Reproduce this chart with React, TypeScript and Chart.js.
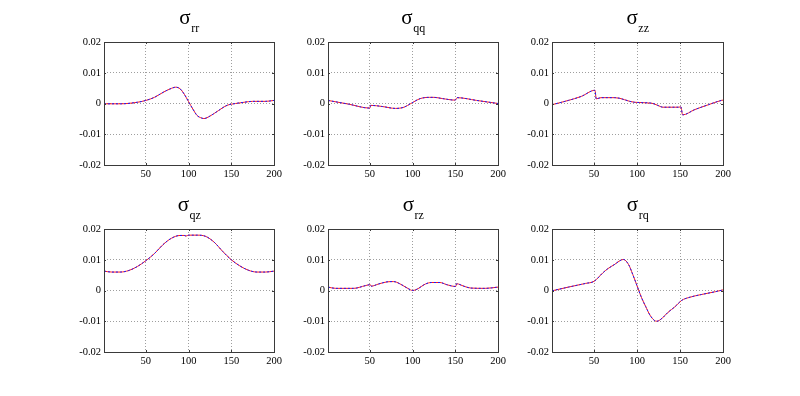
import React, { useEffect, useRef } from 'react';
import { Chart, registerables } from 'chart.js';

Chart.register(...registerables);

// ---- data ----
const rrX = [1, 20, 40, 50, 60, 70, 78, 85, 90, 95, 100, 105, 110, 115, 118, 125, 135, 145, 155, 165, 175, 190, 200];
const rrY = [-0.0001, -0.0001, 0.0004, 0.001, 0.002, 0.0036, 0.0047, 0.0053, 0.0048, 0.003, 0.0006, -0.0018, -0.0039, -0.0047, -0.0049, -0.0041, -0.0023, -0.0006, 0, 0.0004, 0.0007, 0.0007, 0.001];

const qqX = [1, 25, 50, 51, 65, 80, 90, 98, 109, 120, 125, 135, 150, 151, 152, 175, 200];
const qqY = [0.001, -0.0002, -0.0015, -0.0006, -0.001, -0.0016, -0.0012, 0, 0.0016, 0.002, 0.002, 0.0016, 0.0011, 0.0015, 0.0019, 0.001, 0];

const zzX = [1, 20, 35, 51, 52.5, 58, 74, 97, 117, 124, 130, 148, 151, 153, 167, 183, 198, 200];
const zzY = [-0.0004, 0.001, 0.0023, 0.0043, 0.0015, 0.0019, 0.0019, 0.0004, 0.0001, -0.0006, -0.0012, -0.0012, -0.0011, -0.0037, -0.002, -0.0004, 0.001, 0.0011];

const qzX = [1, 10, 20, 30, 40, 50, 60, 70, 80, 90, 95, 97, 100, 110, 120, 130, 140, 150, 160, 170, 180, 190, 200];
const qzY = [0.0063, 0.006, 0.006, 0.0065, 0.0078, 0.0097, 0.012, 0.0149, 0.017, 0.0179, 0.0179, 0.0177, 0.018, 0.018, 0.0176, 0.0157, 0.0127, 0.01, 0.008, 0.0066, 0.006, 0.006, 0.0063];

const rzX = [1, 10, 31, 45, 50.5, 51.5, 60, 70, 78, 85, 95, 100, 105, 115, 122, 132, 140, 150.5, 151.5, 160, 168, 185, 200];
const rzY = [0.0011, 0.0007, 0.0007, 0.0016, 0.0019, 0.0014, 0.0021, 0.0028, 0.0029, 0.0022, 0.0006, 0, 0.0004, 0.0021, 0.0026, 0.0026, 0.0019, 0.0013, 0.0022, 0.0014, 0.0008, 0.0007, 0.0011];

const rqX = [1, 20, 40, 50, 60, 66, 74, 80, 84, 90, 95, 100, 105, 110, 115, 120, 123, 130, 136, 144, 152, 160, 175, 191, 200];
const rqY = [-0.0001, 0.0011, 0.0023, 0.003, 0.0057, 0.0071, 0.0085, 0.0097, 0.0101, 0.0085, 0.0052, 0.0015, -0.0022, -0.0052, -0.008, -0.0097, -0.01, -0.0088, -0.0071, -0.0053, -0.0032, -0.0023, -0.0013, -0.0004, 0.0002];

const xTicks = [50, 100, 150, 200];
const yTicks = [-0.02, -0.01, 0, 0.01, 0.02];
const subscripts = ['rr', 'qq', 'zz', 'qz', 'rz', 'rq'];
const seriesX = [rrX, qqX, zzX, qzX, rzX, rqX];
const seriesY = [rrY, qqY, zzY, qzY, rzY, rqY];

// ---- layout ----
const W = 800;
const H = 396;
const colLeft = [104, 328, 552];
const colRight = [274, 498, 723];
const rowTop = [42, 229];
const rowBottom = [165, 352];
const FONT = "'Liberation Serif', 'Times New Roman', Times, serif";
const Y_AXIS_W = 40;
const X_AXIS_H = 20;

const boxPlugin = {
  id: 'matlabBox',
  afterDraw(chart: any) {
    const { ctx, chartArea: a } = chart;
    const sub = chart.options.plugins.matlabBox.sub;
    ctx.save();
    // inward tick marks
    ctx.strokeStyle = '#3a3a3a';
    ctx.lineWidth = 1;
    ctx.beginPath();
    xTicks.forEach((v) => {
      const px = Math.round(chart.scales.x.getPixelForValue(v)) + 0.5;
      ctx.moveTo(px, a.bottom);
      ctx.lineTo(px, a.bottom - 2);
      ctx.moveTo(px, a.top);
      ctx.lineTo(px, a.top + 2);
    });
    yTicks.forEach((v) => {
      const py = Math.round(chart.scales.y.getPixelForValue(v)) + 0.5;
      ctx.moveTo(a.left, py);
      ctx.lineTo(a.left + 2, py);
      ctx.moveTo(a.right, py);
      ctx.lineTo(a.right - 2, py);
    });
    ctx.stroke();
    // box
    ctx.strokeStyle = '#3a3a3a';
    ctx.strokeRect(Math.round(a.left) + 0.5, Math.round(a.top) + 0.5, Math.round(a.right - a.left), Math.round(a.bottom - a.top));
    // title: sigma with subscript
    ctx.fillStyle = '#000';
    ctx.textBaseline = 'alphabetic';
    ctx.textAlign = 'left';
    ctx.font = `21px ${FONT}`;
    const w1 = ctx.measureText('σ').width;
    ctx.font = `12px ${FONT}`;
    const w2 = ctx.measureText(sub).width;
    const cx = (a.left + a.right) / 2;
    const x0 = cx - (w1 + w2) / 2;
    ctx.font = `21px ${FONT}`;
    ctx.fillText('σ', x0, a.top - 18.5);
    ctx.font = `12px ${FONT}`;
    ctx.fillText(sub, x0 + w1 + 0.5, a.top - 10);
    ctx.restore();
  },
};

function Panel({ idx }: { idx: number }) {
  const ref = useRef<HTMLCanvasElement | null>(null);
  useEffect(() => {
    if (!ref.current) return;
    const col = idx % 3;
    const row = Math.floor(idx / 3);
    const left = colLeft[col];
    const right = colRight[col];
    const top = rowTop[row];
    const bottom = rowBottom[row];
    const xs = seriesX[idx];
    const ys = seriesY[idx];
    const pts = xs.map((x, i) => ({ x, y: ys[i] }));
    const chart = new Chart(ref.current, {
      type: 'line',
      data: {
        datasets: [
          // first dataset is drawn on top in Chart.js
          {
            data: pts,
            borderColor: '#1a1aff',
            borderWidth: 1,
            borderDash: [2, 2],
            pointRadius: 0,
            cubicInterpolationMode: 'monotone',
            fill: false,
          },
          {
            data: pts,
            borderColor: '#ff1a1a',
            borderWidth: 1,
            pointRadius: 0,
            cubicInterpolationMode: 'monotone',
            fill: false,
          },
        ],
      },
      options: {
        animation: false,
        responsive: false,
        devicePixelRatio: 1,
        layout: {
          padding: {
            left: left - Y_AXIS_W,
            right: W - right,
            top: top,
            bottom: H - bottom - X_AXIS_H,
          },
        },
        plugins: {
          legend: { display: false },
          tooltip: { enabled: false },
          title: { display: false },
          matlabBox: { sub: subscripts[idx] },
        } as any,
        scales: {
          x: {
            type: 'linear',
            min: 1,
            max: 200,
            afterBuildTicks: (s: any) => {
              s.ticks = xTicks.map((v) => ({ value: v }));
            },
            afterFit: (s: any) => {
              s.height = X_AXIS_H;
            },
            grid: { color: 'rgba(0,0,0,0.38)', lineWidth: 1, drawTicks: false },
            border: { display: false, dash: [1, 2] },
            ticks: {
              color: '#000',
              font: { family: FONT, size: 10.5 },
              padding: 3,
              maxRotation: 0,
              autoSkip: false,
              callback: (v: any) => String(v),
            },
          },
          y: {
            type: 'linear',
            min: -0.02,
            max: 0.02,
            afterBuildTicks: (s: any) => {
              s.ticks = yTicks.map((v) => ({ value: v }));
            },
            afterFit: (s: any) => {
              s.width = Y_AXIS_W;
            },
            grid: { color: 'rgba(0,0,0,0.38)', lineWidth: 1, drawTicks: false },
            border: { display: false, dash: [1, 2] },
            ticks: {
              color: '#000',
              font: { family: FONT, size: 10.5 },
              padding: 3,
              autoSkip: false,
              callback: (v: any) => (v === 0 ? '0' : String(Math.round(v * 100) / 100)),
            },
          },
        },
      },
      plugins: [boxPlugin],
    } as any);
    return () => chart.destroy();
  }, [idx]);
  return (
    <canvas
      ref={ref}
      width={W}
      height={H}
      style={{ position: 'absolute', left: 0, top: 0, width: W, height: H }}
    />
  );
}

export default function App() {
  return (
    <div
      style={{
        position: 'fixed',
        left: 0,
        top: 0,
        width: W,
        height: H,
        background: '#fff',
        overflow: 'hidden',
      }}
    >
      {subscripts.map((_, i) => (
        <Panel key={i} idx={i} />
      ))}
    </div>
  );
}
